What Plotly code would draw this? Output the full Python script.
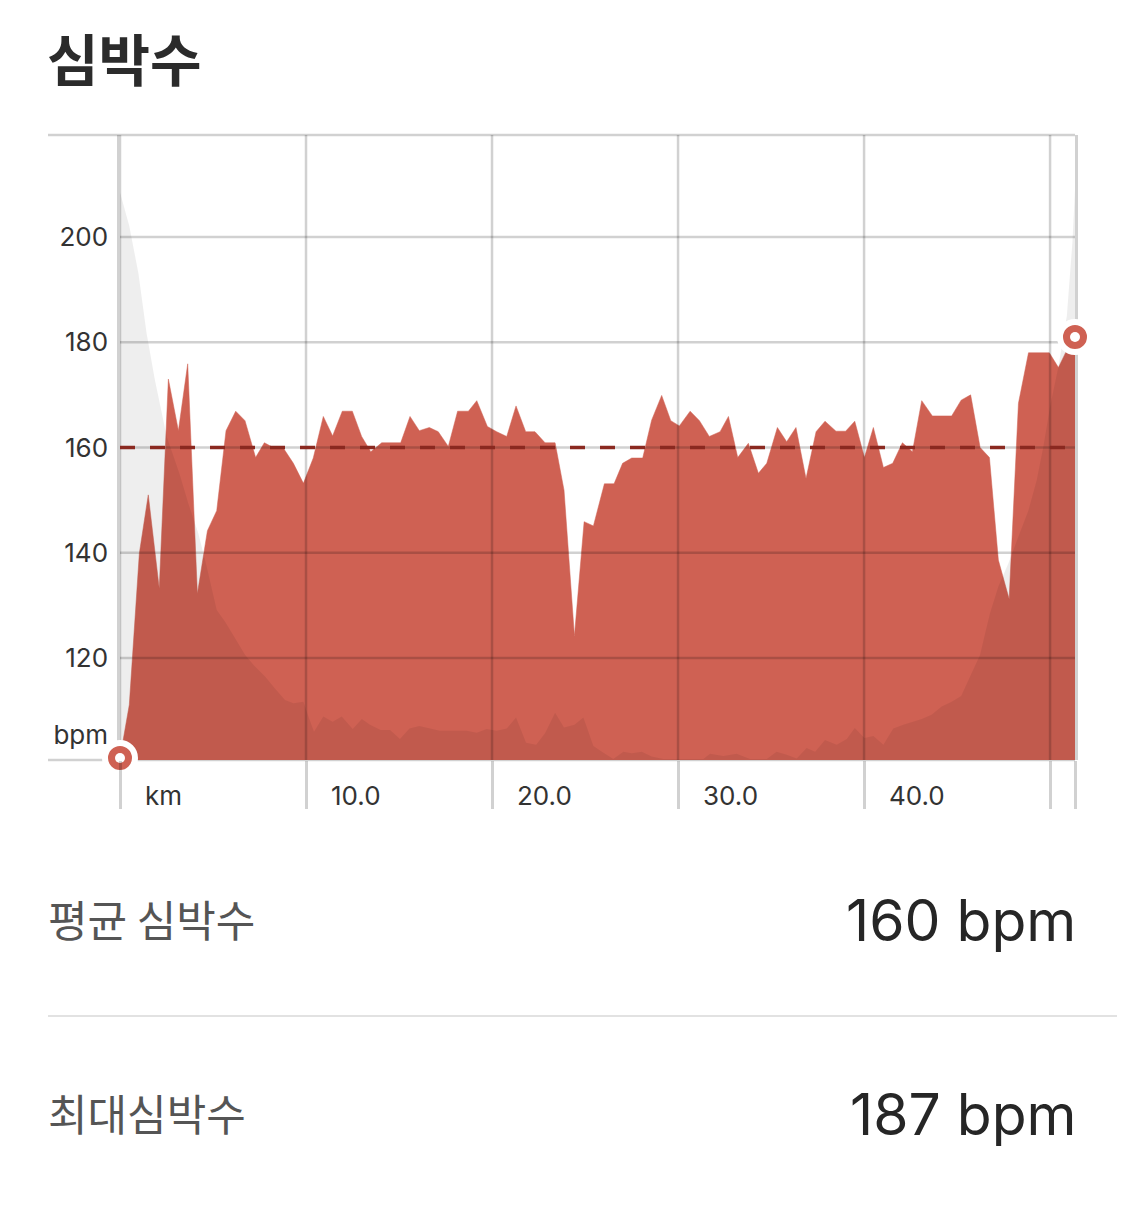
import plotly.graph_objects as go

# ---------------- data ----------------
distance_km = [0.0, 0.50, 1.04, 1.52, 2.11, 2.60, 3.14, 3.64, 4.16, 4.70, 5.20, 5.70, 6.22, 6.72,
               7.29, 7.76, 8.24, 8.78, 9.32, 9.86, 10.39, 10.93, 11.43, 11.95, 12.49, 12.99, 13.48,
               14.07, 15.09, 15.59, 16.09, 16.63, 17.11, 17.65, 18.15, 18.73, 19.18, 19.75, 20.25,
               20.79, 21.29, 21.81, 22.31, 22.85, 23.39, 23.87, 24.43, 24.95, 25.45, 26.04, 26.56,
               27.02, 27.51, 28.10, 28.58, 29.12, 29.61, 30.07, 30.65, 31.15, 31.68, 32.26, 32.71,
               33.21, 33.78, 34.32, 34.77, 35.34, 35.84, 36.34, 36.88, 37.42, 37.90, 38.49, 39.01,
               39.50, 40.02, 40.50, 41.04, 41.54, 42.06, 42.60, 43.10, 43.67, 44.71, 45.22, 45.73,
               46.24, 46.74, 47.22, 47.80, 48.30, 48.84, 49.96, 50.45, 50.90, 51.34]
heart_rate = [101.0, 111.1, 139.9, 151.0, 133.2, 173.0, 163.2, 175.9, 132.2, 144.2, 148.0, 163.2,
              166.9, 165.1, 158.1, 160.9, 160.0, 159.9, 157.0, 153.2, 158.0, 165.9, 162.2, 166.9,
              166.9, 162.1, 159.2, 160.9, 160.9, 165.9, 163.2, 163.8, 163.0, 160.2, 166.9, 166.9,
              168.9, 164.0, 163.0, 162.1, 167.9, 163.0, 163.0, 160.9, 160.9, 151.9, 124.2, 145.9,
              145.1, 153.1, 153.1, 157.0, 158.0, 158.0, 165.2, 169.9, 165.1, 164.1, 166.9, 165.1,
              162.1, 163.0, 165.9, 158.1, 160.8, 155.1, 157.0, 163.8, 161.1, 163.8, 154.1, 163.0,
              165.0, 163.1, 163.1, 165.0, 158.1, 163.8, 156.2, 157.0, 160.9, 159.2, 168.9, 166.0,
              166.0, 169.0, 170.0, 160.0, 158.1, 138.6, 131.2, 168.4, 178.0, 178.0, 175.2, 178.5,
              181.0]

profile_km = [0.0, 0.50, 0.99, 1.43, 1.88, 2.20, 2.51, 3.19, 3.67, 4.21, 4.66, 5.20, 5.65, 6.18,
              6.72, 7.17, 7.80, 8.33, 8.87, 9.32, 9.86, 10.13, 10.43, 10.93, 11.43, 11.92, 12.51,
              13.00, 13.44, 14.01, 14.52, 15.05, 15.56, 16.09, 16.67, 17.20, 18.64, 19.18, 19.71,
              20.25, 20.79, 21.29, 21.83, 22.37, 22.85, 23.39, 23.87, 24.43, 24.91, 25.45, 25.99,
              26.52, 27.06, 27.51, 28.05, 28.58, 29.21, 31.36, 31.72, 32.44, 33.15, 33.87, 34.77,
              35.30, 35.84, 36.38, 36.91, 37.37, 37.90, 38.53, 39.07, 39.50, 40.02, 40.50, 41.04,
              41.57, 42.11, 43.10, 43.63, 44.17, 44.71, 45.22, 45.70, 46.24, 46.51, 46.77, 47.22,
              47.76, 48.30, 48.84, 49.28, 49.64, 50.00, 50.45, 50.90, 51.20, 51.34]
profile_val = [208.5, 202.1, 193.1, 181.7, 172.8, 167.0, 162.1, 155.1, 149.4, 143.7, 137.4, 129.1,
               126.9, 123.8, 120.6, 118.7, 116.5, 114.2, 112.0, 111.4, 111.7, 108.9, 106.0, 108.9,
               107.9, 108.9, 106.5, 108.4, 107.3, 106.3, 106.3, 104.6, 106.6, 107.1, 106.6, 106.2,
               106.2, 105.8, 106.5, 106.2, 106.6, 108.7, 103.9, 103.5, 105.7, 109.6, 106.8, 107.3,
               108.7, 103.3, 102.0, 100.8, 102.2, 101.9, 102.2, 101.3, 100.8, 100.8, 101.8, 101.4,
               101.8, 100.8, 100.8, 102.2, 101.6, 100.9, 102.9, 102.2, 104.4, 103.5, 104.6, 106.7,
               104.8, 105.2, 103.5, 106.6, 107.3, 108.4, 109.2, 110.8, 111.7, 112.8, 116.5, 120.6,
               124.7, 128.5, 133.6, 138.0, 143.1, 148.1, 153.8, 160.2, 167.8, 175.4, 185.0, 199.0,
               209.0]

avg_hr = 160
max_hr = 187
y_ticks = [120, 140, 160, 180, 200]
y_unit_pos = 105.4
x_ticks = [0, 10, 20, 30, 40, 50]
x_tick_labels = ["km", "10.0", "20.0", "30.0", "40.0", ""]
x_range = [0, 51.34]
y_range = [100.62, 219.38]

title_text = "심박수"
row_labels = ["평균 심박수", "최대심박수"]
row_values = [f"{avg_hr} bpm", f"{max_hr} bpm"]

# ---------------- style ----------------
RED = "#cf6153"
GRID = "rgba(0,0,0,0.18)"
KR_FONT = "Noto Sans CJK KR"
NUM_FONT = "Inter, Noto Sans CJK KR"

OFF = 8  # page body margin of the html page
W, H = 1125 - OFF, 1205 - 2 * OFF
ML, MT = 120 - OFF, 135 - OFF
PW, PH = 955, 625
MR, MB = W - ML - PW, H - MT - PH


def px_to_paper_x(px):
    return (px - OFF - ML) / PW


def px_to_paper_y(py):
    return (MT + PH - (py - OFF)) / PH


fig = go.Figure()

# heart-rate area
fig.add_trace(go.Scatter(x=distance_km, y=heart_rate, mode="lines", fill="tozeroy",
                         fillcolor=RED, line=dict(color=RED, width=0.5), hoverinfo="skip"))
# background profile (translucent grey overlay)
fig.add_trace(go.Scatter(x=profile_km, y=profile_val, mode="lines", fill="tozeroy",
                         fillcolor="rgba(0,0,0,0.065)", line=dict(width=0), hoverinfo="skip"))

# gridlines drawn above the areas
gx, gy = [], []
for v in y_ticks:
    gx += [x_range[0], x_range[1], None]
    gy += [v, v, None]
for t in x_ticks:
    gx += [t, t, None]
    gy += [y_range[0], y_range[1], None]
fig.add_trace(go.Scatter(x=gx, y=gy, mode="lines", line=dict(color=GRID, width=2.5),
                         hoverinfo="skip"))

# average line
fig.add_trace(go.Scatter(x=[x_range[0], x_range[1]], y=[avg_hr, avg_hr], mode="lines",
                         line=dict(color="#8a2920", width=3.5, dash="15px,15px"), hoverinfo="skip"))

# start / end markers
ends_x = [distance_km[0], distance_km[-1]]
ends_y = [heart_rate[0], heart_rate[-1]]
fig.add_trace(go.Scatter(x=ends_x, y=ends_y, mode="markers", cliponaxis=False,
                         marker=dict(size=30, color=RED, line=dict(color="white", width=6)),
                         hoverinfo="skip"))
fig.add_trace(go.Scatter(x=ends_x, y=ends_y, mode="markers", cliponaxis=False,
                         marker=dict(size=10, color="white", line=dict(width=0)),
                         hoverinfo="skip"))

# top & bottom borders extending left
for yy in (0, 1):
    fig.add_shape(type="line", xref="paper", yref="paper", x0=px_to_paper_x(48), x1=1,
                  y0=yy, y1=yy, line=dict(color=GRID, width=2.5), layer="below")

# x tick labels (left-aligned after the gridline)
for t, lab in zip(x_ticks, x_tick_labels):
    if lab:
        fig.add_annotation(x=t, xref="x", y=px_to_paper_y(795), yref="paper", text=lab,
                           showarrow=False, xanchor="left", yanchor="middle", xshift=23,
                           font=dict(family=NUM_FONT, size=26, color="#333333"))

# title
fig.add_annotation(x=px_to_paper_x(45), xref="paper", y=px_to_paper_y(57), yref="paper",
                   text=f"<b>{title_text}</b>", showarrow=False, xanchor="left", yanchor="middle",
                   font=dict(family=KR_FONT, size=56, color="#2b2b2b"))

# summary rows
row_y = [918, 1112]
for lab, val, yy in zip(row_labels, row_values, row_y):
    fig.add_annotation(x=px_to_paper_x(46), xref="paper", y=px_to_paper_y(yy), yref="paper",
                       text=lab, showarrow=False, xanchor="left", yanchor="middle",
                       font=dict(family=KR_FONT, size=43, color="#555555"))
    fig.add_annotation(x=px_to_paper_x(1078), xref="paper", y=px_to_paper_y(yy + 2), yref="paper",
                       text=val, showarrow=False, xanchor="right", yanchor="middle",
                       font=dict(family=NUM_FONT, size=57, color="#262626"))

# separator
fig.add_shape(type="line", xref="paper", yref="paper", x0=px_to_paper_x(48), x1=px_to_paper_x(1125),
              y0=px_to_paper_y(1016), y1=px_to_paper_y(1016), line=dict(color="#d9d9d9", width=1.5))

fig.update_layout(
    width=W, height=H,
    margin=dict(l=ML, r=MR, t=MT, b=MB, pad=0),
    paper_bgcolor="white", plot_bgcolor="white",
    showlegend=False, hovermode=False,
    xaxis=dict(range=x_range, showgrid=False, zeroline=False, showline=False,
               tickvals=x_ticks + [x_range[1]], ticks="outside", ticklen=48, tickwidth=2.5,
               tickcolor=GRID, showticklabels=False, fixedrange=True),
    yaxis=dict(range=y_range, showgrid=False, zeroline=False,
               showline=True, mirror=True, linecolor=GRID, linewidth=2.5, layer="below traces",
               tickvals=[y_unit_pos] + y_ticks, ticktext=["bpm"] + [str(v) for v in y_ticks],
               ticks="", ticklabelstandoff=4,
               tickfont=dict(family=NUM_FONT, size=26, color="#333333"), fixedrange=True),
)

fig.write_html("out.html")
